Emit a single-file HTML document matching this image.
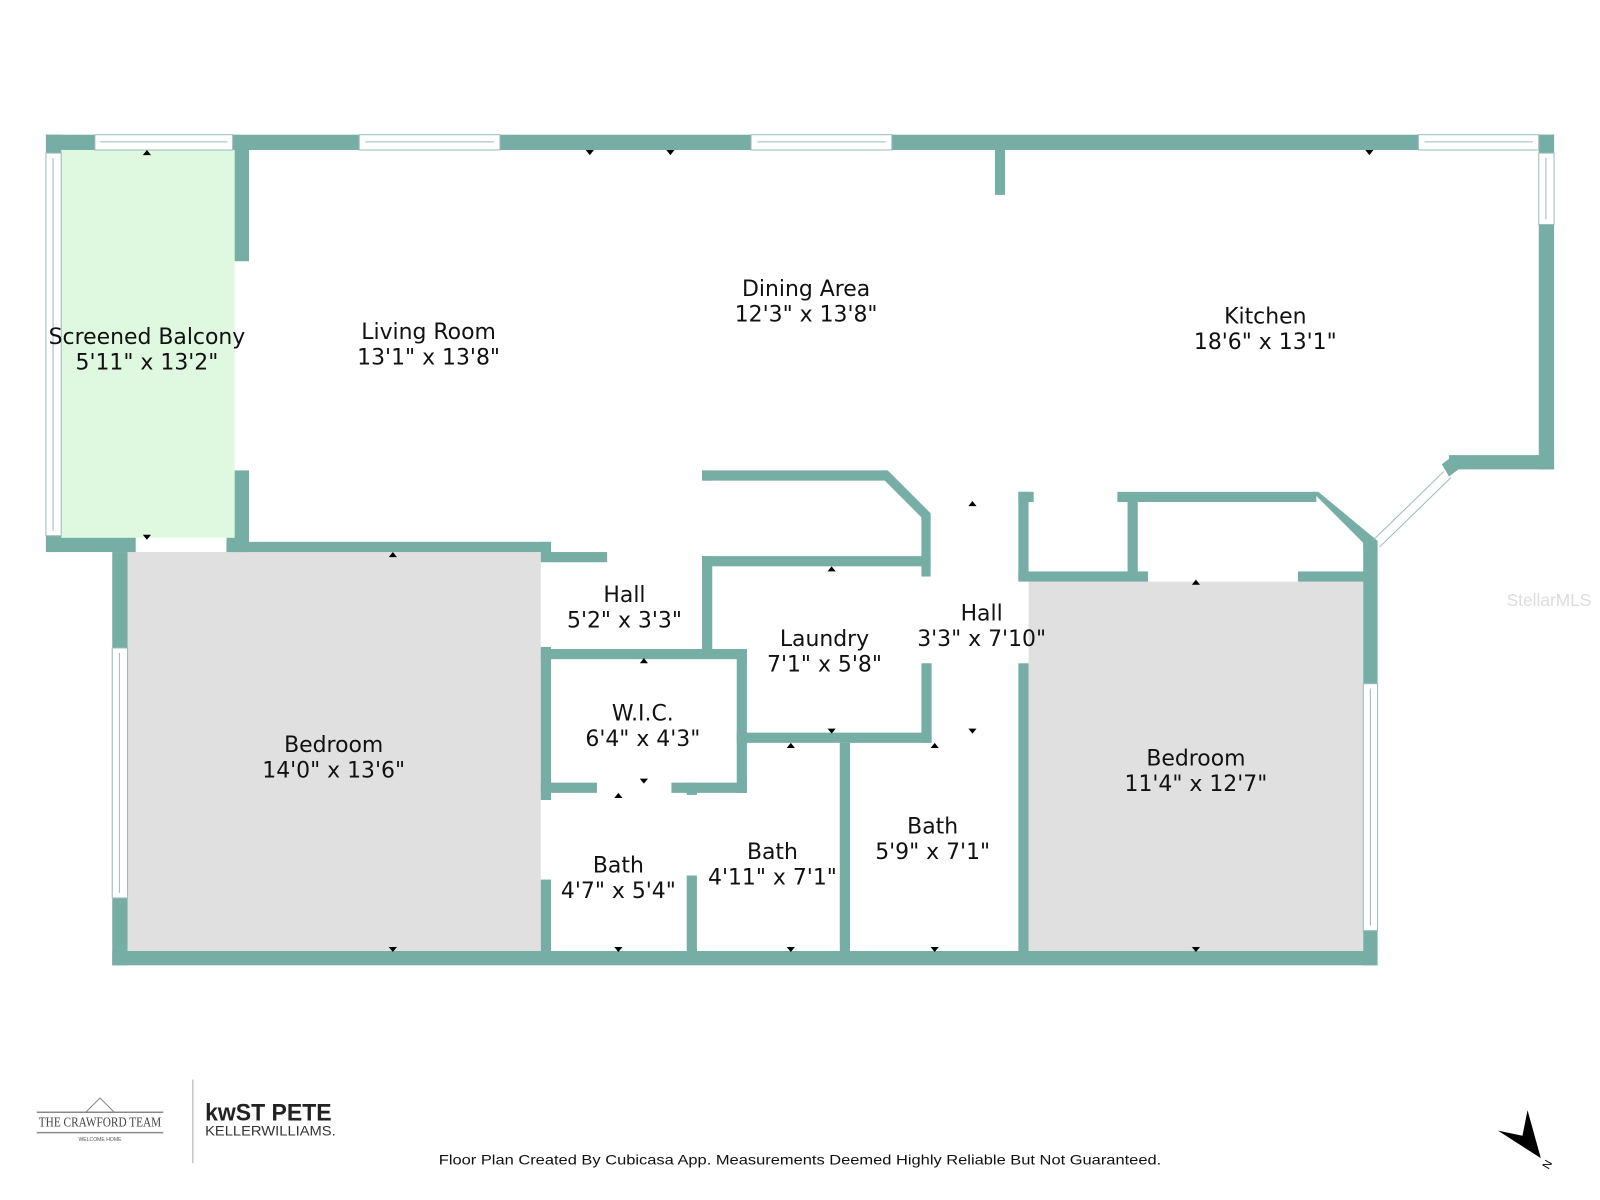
<!DOCTYPE html>
<html><head><meta charset="utf-8"><style>
html,body{margin:0;padding:0;background:#fff;width:1600px;height:1200px;overflow:hidden}
svg{display:block}
.l{font-family:"DejaVu Sans","Liberation Sans",sans-serif;font-size:21.5px;fill:#111;text-anchor:middle}
</style></head><body>
<svg width="1600" height="1200" viewBox="0 0 1568 1176" xmlns="http://www.w3.org/2000/svg">
<rect width="1568" height="1176" fill="#fff"/>
<rect x="60" y="147" width="170" height="380" fill="#dff8e0"/>
<rect x="125" y="541" width="405" height="391" fill="#e0e0e0"/>
<rect x="1008" y="570" width="328" height="362" fill="#e0e0e0"/>
<g fill="#76ada5">
<rect x="45" y="132" width="1478" height="15"/>
<rect x="45" y="132" width="15" height="409"/>
<rect x="45" y="527" width="88" height="14"/>
<rect x="222" y="527" width="22" height="14"/>
<rect x="230" y="147" width="14" height="109"/>
<rect x="230" y="461" width="14" height="80"/>
<rect x="222" y="531" width="318" height="10"/>
<rect x="975" y="147" width="10" height="44"/>
<rect x="1508" y="132" width="15" height="328"/>
<rect x="1420" y="446" width="103" height="14"/>
<polygon points="1413,455 1425,446 1432,458 1420,467"/>
<rect x="110" y="541" width="15" height="405"/>
<rect x="110" y="932" width="1240" height="14"/>
<rect x="530" y="531" width="10" height="20"/>
<rect x="530" y="634" width="10" height="150"/>
<rect x="530" y="862" width="10" height="80"/>
<rect x="540" y="541" width="55" height="10"/>
<rect x="688" y="461" width="180" height="10"/>
<polygon points="864,461 870,461 912,503 912,510 903,510 903,507 864,468"/>
<rect x="903" y="505" width="9" height="60"/>
<rect x="688" y="461" width="10" height="10"/>
<rect x="688" y="545" width="10" height="95"/>
<rect x="688" y="545" width="224" height="10"/>
<rect x="903" y="650" width="10" height="78"/>
<rect x="530" y="636" width="202" height="10"/>
<rect x="722" y="636" width="10" height="141"/>
<rect x="722" y="718" width="190" height="10"/>
<rect x="823" y="728" width="10" height="210"/>
<rect x="530" y="767" width="55" height="10"/>
<rect x="658" y="767" width="74" height="10"/>
<rect x="673" y="767" width="10" height="12"/>
<rect x="673" y="858" width="10" height="80"/>
<rect x="998" y="482" width="10" height="86"/>
<rect x="998" y="650" width="10" height="290"/>
<rect x="998" y="482" width="15" height="10"/>
<rect x="1095" y="482" width="195" height="10"/>
<polygon points="1286,482 1292,482 1350,530 1350,538 1336,538 1336,532"/>
<rect x="1105" y="487" width="10" height="80"/>
<rect x="998" y="560" width="127" height="10"/>
<rect x="1272" y="560" width="78" height="10"/>
<rect x="1336" y="530" width="14" height="416"/>
</g>
<g fill="#fff" stroke="#9bb" stroke-width="1">
<rect x="93" y="132" width="135" height="15"/><line x1="98" y1="139" x2="223" y2="139"/>
<rect x="352" y="132" width="138" height="15"/><line x1="358" y1="139" x2="484" y2="139"/>
<rect x="736" y="132" width="138" height="15"/><line x1="742" y1="139" x2="868" y2="139"/>
<rect x="1390" y="132" width="118" height="15"/><line x1="1396" y1="139" x2="1502" y2="139"/>
<rect x="45" y="150" width="15" height="375"/><line x1="52" y1="155" x2="52" y2="520"/>
<rect x="1508" y="150" width="15" height="70"/><line x1="1515" y1="155" x2="1515" y2="215"/>
<rect x="110" y="635" width="15" height="245"/><line x1="117" y1="640" x2="117" y2="875"/>
<rect x="1336" y="670" width="14" height="242"/><line x1="1343" y1="675" x2="1343" y2="907"/>
<line x1="1415" y1="462" x2="1345" y2="530"/><line x1="1422" y1="468" x2="1352" y2="536"/>
</g>
<g fill="#000">
<polygon points="140,152 148,152 144,147"/><polygon points="140,524 148,524 144,529"/>
<polygon points="574,147 582,147 578,152"/><polygon points="653,147 661,147 657,152"/><polygon points="1338,147 1346,147 1342,152"/>
<polygon points="381,546 389,546 385,541"/><polygon points="381,928 389,928 385,933"/>
<polygon points="1168,573 1176,573 1172,568"/><polygon points="1168,928 1176,928 1172,933"/>
<polygon points="811,560 819,560 815,555"/><polygon points="811,714 819,714 815,719"/>
<polygon points="627,650 635,650 631,645"/><polygon points="627,763 635,763 631,768"/>
<polygon points="949,496 957,496 953,491"/><polygon points="949,714 957,714 953,719"/>
<polygon points="602,782 610,782 606,777"/><polygon points="602,928 610,928 606,933"/>
<polygon points="771,733 779,733 775,728"/><polygon points="771,928 779,928 775,933"/>
<polygon points="912,733 920,733 916,728"/><polygon points="912,928 920,928 916,933"/>
</g>
<text class="l" x="144" y="337">Screened Balcony</text><text class="l" x="144" y="362">5'11" x 13'2"</text>
<text class="l" x="420" y="332">Living Room</text><text class="l" x="420" y="357">13'1" x 13'8"</text>
<text class="l" x="790" y="290">Dining Area</text><text class="l" x="790" y="315">12'3" x 13'8"</text>
<text class="l" x="1240" y="317">Kitchen</text><text class="l" x="1240" y="342">18'6" x 13'1"</text>
<text class="l" x="612" y="590">Hall</text><text class="l" x="612" y="615">5'2" x 3'3"</text>
<text class="l" x="808" y="633">Laundry</text><text class="l" x="808" y="658">7'1" x 5'8"</text>
<text class="l" x="962" y="608">Hall</text><text class="l" x="962" y="633">3'3" x 7'10"</text>
<text class="l" x="630" y="706">W.I.C.</text><text class="l" x="630" y="731">6'4" x 4'3"</text>
<text class="l" x="327" y="737">Bedroom</text><text class="l" x="327" y="762">14'0" x 13'6"</text>
<text class="l" x="1172" y="750">Bedroom</text><text class="l" x="1172" y="775">11'4" x 12'7"</text>
<text class="l" x="606" y="855">Bath</text><text class="l" x="606" y="880">4'7" x 5'4"</text>
<text class="l" x="757" y="842">Bath</text><text class="l" x="757" y="867">4'11" x 7'1"</text>
<text class="l" x="914" y="817">Bath</text><text class="l" x="914" y="842">5'9" x 7'1"</text>
<text x="1518" y="594" font-family="Liberation Sans,sans-serif" font-size="17" fill="#ddd" text-anchor="middle">StellarMLS</text>
<g stroke="#888" stroke-width="1.5"><line x1="36" y1="1090" x2="160" y2="1090"/><line x1="36" y1="1110" x2="160" y2="1110"/></g>
<polygon points="84,1090 98,1076 112,1090" fill="none" stroke="#888"/>
<text x="98" y="1104" font-family="Liberation Serif,serif" font-size="13" fill="#444" text-anchor="middle" textLength="120" lengthAdjust="spacingAndGlyphs">THE CRAWFORD TEAM</text>
<text x="98" y="1118" font-family="Liberation Sans,sans-serif" font-size="5" fill="#555" text-anchor="middle">WELCOME HOME</text>
<line x1="189" y1="1058" x2="189" y2="1140" stroke="#aaa"/>
<text x="201" y="1098" font-family="Liberation Sans,sans-serif" font-size="24" font-weight="bold" fill="#222" textLength="124" lengthAdjust="spacingAndGlyphs">kwST PETE</text>
<text x="201" y="1113" font-family="Liberation Sans,sans-serif" font-size="14" fill="#333" textLength="128" lengthAdjust="spacingAndGlyphs">KELLERWILLIAMS.</text>
<text x="784" y="1141" font-family="Liberation Sans,sans-serif" font-size="14" fill="#111" text-anchor="middle" textLength="708" lengthAdjust="spacingAndGlyphs">Floor Plan Created By Cubicasa App. Measurements Deemed Highly Reliable But Not Guaranteed.</text>
<polygon points="1497,1088 1510,1135 1468,1108 1492,1113" fill="#000"/>
<text x="1515" y="1148" font-family="Liberation Sans,sans-serif" font-size="11" fill="#000" transform="rotate(-60 1515 1145)">N</text>
</svg>
</body></html>
